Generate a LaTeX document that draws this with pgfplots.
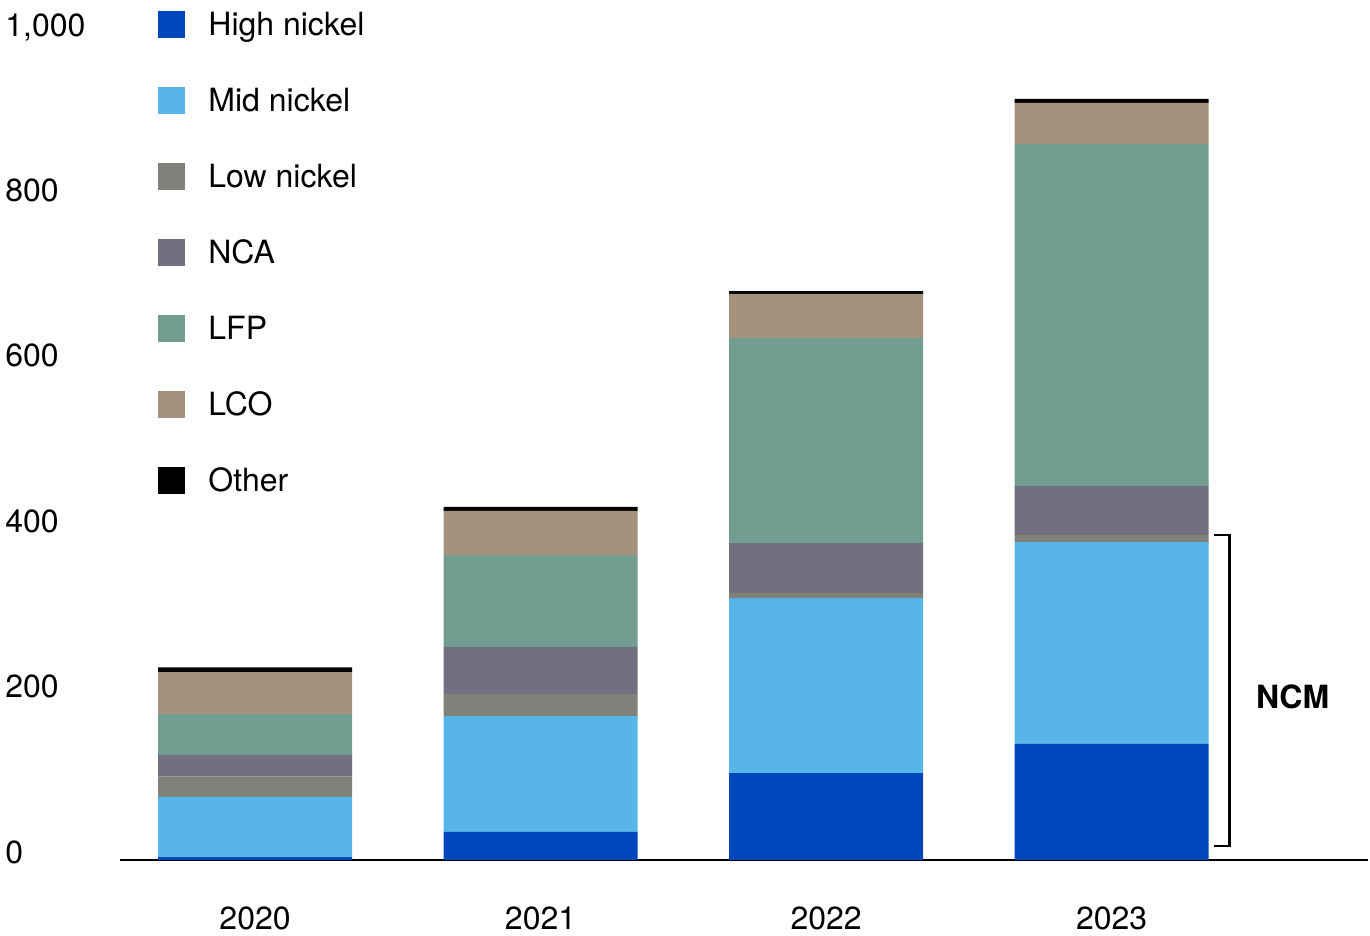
\documentclass[border=0pt]{standalone}
\usepackage{fontspec}
\setmainfont{TeX Gyre Heros}
\usepackage{pgfplots}
\pgfplotsset{compat=1.18}
\definecolor{cHigh}{RGB}{0,71,187}
\definecolor{cMid}{RGB}{87,182,231}
\definecolor{cLow}{RGB}{128,129,122}
\definecolor{cNCA}{RGB}{114,112,128}
\definecolor{cLFP}{RGB}{116,157,145}
\definecolor{cLCO}{RGB}{164,146,125}
\definecolor{cOther}{RGB}{0,0,0}
\pgfplotsset{sq/.style={draw=none, fill=#1, legend image code/.code={\fill[#1] (0pt,-6.75pt) rectangle (13.5pt,6.75pt);}}}
\begin{document}
\begin{tikzpicture}
\path[use as bounding box] (-60pt,-38pt) rectangle (625pt,430pt);
\begin{axis}[
  scale only axis,
  width=624pt, height=413.5pt,
  xmin=-0.473, xmax=3.898,
  ymin=0, ymax=1000,
  ybar stacked, bar width=97pt,
  clip=false,
  axis x line*=bottom,
  axis y line*=left,
  y axis line style={draw=none},
  x axis line style={line width=1pt, -},
  major tick length=0pt,
  xtick={0,1,2,3},
  xticklabels={2020,2021,2022,2023},
  ytick={0,200,400,600,800,1000},
  yticklabels={0,200,400,600,800,{1,000}},
  tick label style={font=\fontsize{16}{19}\selectfont},
  yticklabel style={anchor=base west, inner sep=0pt, xshift=-57.5pt, yshift=-1.6pt},
  xticklabel style={anchor=base, yshift=-34.8pt},
  legend cell align=left,
  legend style={at={(axis description cs:0.03045,1.0266)}, anchor=north west,
    draw=none, fill=none, inner sep=0pt, row sep=24.5pt,
    font=\fontsize{16}{19}\selectfont,
    nodes={inner sep=0pt},
    /tikz/every odd column/.append style={column sep=11.5pt}},
]
\addplot[sq=cHigh] coordinates {(0,3.6) (1,33.9) (2,105) (3,140.3)};
\addplot[sq=cMid] coordinates {(0,72.6) (1,140.2) (2,211.8) (3,244.2)};
\addplot[sq=cLow] coordinates {(0,24.5) (1,26.6) (2,6.1) (3,8.5)};
\addplot[sq=cNCA] coordinates {(0,26.3) (1,56.9) (2,60.4) (3,59.2)};
\addplot[sq=cLFP] coordinates {(0,49.5) (1,111.4) (2,247.9) (3,413.6)};
\addplot[sq=cLCO] coordinates {(0,50.8) (1,53.2) (2,53.2) (3,49.6)};
\addplot[sq=cOther] coordinates {(0,5.5) (1,4.8) (2,3.6) (3,4.8)};
\legend{High nickel, Mid nickel, Low nickel, NCA, LFP, LCO, Other}
\draw[line width=1.2pt] (axis cs:3.357,393) -- (axis cs:3.413,393) -- (axis cs:3.413,17) -- (axis cs:3.357,17);
\node[font=\fontsize{16}{19}\selectfont\bfseries] at (axis cs:3.634,197) {NCM};
\end{axis}
\end{tikzpicture}
\end{document}
